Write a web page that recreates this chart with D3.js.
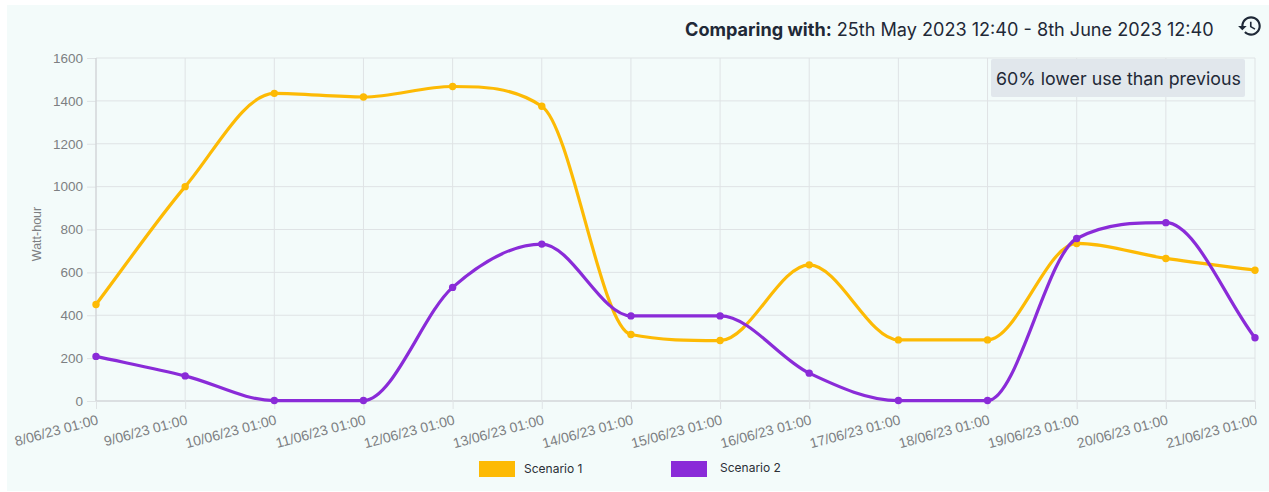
<!DOCTYPE html>
<html>
<head>
<meta charset="utf-8">
<script src="https://cdnjs.cloudflare.com/ajax/libs/d3/7.8.5/d3.min.js"></script>
<style>
  html, body { margin: 0; padding: 0; background: #fff; }
  svg { display: block; }
</style>
</head>
<body>
<svg id="chart" width="1269" height="492"></svg>
<script>
const categories = ["8/06/23 01:00","9/06/23 01:00","10/06/23 01:00","11/06/23 01:00","12/06/23 01:00","13/06/23 01:00","14/06/23 01:00","15/06/23 01:00","16/06/23 01:00","17/06/23 01:00","18/06/23 01:00","19/06/23 01:00","20/06/23 01:00","21/06/23 01:00"];
const scenario1 = [450,1000,1435,1418,1467,1375,310,282,635,285,285,735,665,610];
const scenario2 = [208,117,2,2,530,732,397,397,130,2,2,758,832,295];
const yTicks = [0,200,400,600,800,1000,1200,1400,1600];
const seriesNames = ["Scenario 1","Scenario 2"];
const seriesColors = ["#fdba04","#8a2bd8"];
const comparingLabel = "Comparing with:";
const comparingRange = "25th May 2023 12:40 - 8th June 2023 12:40";
const badgeText = "60% lower use than previous";
const yTitle = "Watt-hour";

const svg = d3.select("#chart");
const tickFont = "'Liberation Sans', Arial, sans-serif";
const uiFont = "Inter, 'Noto Sans', sans-serif";

// Fritsch-Carlson monotone cubic, written as a d3 curve factory
function curveFritschCarlson(context) {
  let pts;
  return {
    lineStart() { pts = []; },
    point(px, py) { pts.push([+px, +py]); },
    lineEnd() {
      const n = pts.length;
      const delta = d3.range(n - 1).map(i => (pts[i+1][1] - pts[i][1]) / (pts[i+1][0] - pts[i][0]));
      const m = pts.map((p, i) => {
        if (i === 0) return delta[0];
        if (i === n - 1) return delta[n - 2];
        return Math.sign(delta[i-1]) !== Math.sign(delta[i]) ? 0 : (delta[i-1] + delta[i]) / 2;
      });
      for (let i = 0; i < n - 1; i++) {
        if (Math.abs(delta[i]) < 1e-6) { m[i] = 0; m[i+1] = 0; continue; }
        const a = m[i] / delta[i], b = m[i+1] / delta[i], s = a * a + b * b;
        if (s <= 9) continue;
        const tau = 3 / Math.sqrt(s);
        m[i] = a * tau * delta[i];
        m[i+1] = b * tau * delta[i];
      }
      context.moveTo(pts[0][0], pts[0][1]);
      for (let i = 0; i < n - 1; i++) {
        const h = (pts[i+1][0] - pts[i][0]) / 3;
        context.bezierCurveTo(pts[i][0] + h, pts[i][1] + m[i] * h,
                              pts[i+1][0] - h, pts[i+1][1] - m[i+1] * h,
                              pts[i+1][0], pts[i+1][1]);
      }
    }
  };
}

// Panel background
svg.append("rect").attr("x",7).attr("y",5).attr("width",1262).attr("height",486).attr("fill","#f3fbfa");

const x = d3.scalePoint().domain(categories).range([96,1255]);
const y = d3.scaleLinear().domain([0,1600]).range([401,58]);
const grid = "#dfe3e5";

// Horizontal grid with tick stubs
const yAxis = svg.append("g").attr("transform","translate(96,0)")
  .call(d3.axisLeft(y).tickValues(yTicks).tickSize(9).tickPadding(4).tickFormat(d3.format("d")));
yAxis.select(".domain").remove();
yAxis.selectAll("line").attr("stroke",grid);
yAxis.selectAll("text").attr("fill","#7d7f82").attr("font-size",13.5).attr("font-family",tickFont);
svg.append("g").selectAll("line").data(yTicks).join("line")
  .attr("x1",96).attr("x2",1255).attr("y1",d=>y(d)).attr("y2",d=>y(d))
  .attr("stroke",d=>d===0?"#d3d6d9":grid).attr("stroke-width",d=>d===0?1.5:1);

// Vertical grid with rotated date labels
const xAxis = svg.append("g").attr("transform","translate(0,401)")
  .call(d3.axisBottom(x).tickSize(8).tickFormat(()=>""));
xAxis.select(".domain").remove();
xAxis.selectAll("line").attr("stroke",grid);
svg.append("g").selectAll("line").data(categories).join("line")
  .attr("x1",d=>x(d)).attr("x2",d=>x(d)).attr("y1",58).attr("y2",401)
  .attr("stroke",(d,i)=>i===0?"#d3d6d9":grid).attr("stroke-width",(d,i)=>i===0?1.5:1);
svg.append("g").selectAll("text").data(categories).join("text")
  .attr("transform",d=>`translate(${x(d)+3},${424}) rotate(-15)`)
  .attr("text-anchor","end")
  .attr("fill","#7d7f82").attr("font-size",14).attr("font-family",tickFont)
  .text(d=>d);

svg.append("text")
  .attr("transform","translate(41,234) rotate(-90)")
  .attr("text-anchor","middle")
  .attr("fill","#7d7f82").attr("font-size",12.5).attr("font-family",tickFont)
  .text(yTitle);

// Comparison badge sits over the grid lines
svg.append("rect").attr("x",991).attr("y",59).attr("width",254).attr("height",38).attr("rx",2).attr("fill","#e1e7ec");
svg.append("text").attr("x",996).attr("y",85)
  .attr("fill","#1f2937").attr("font-size",17.8).attr("font-family",uiFont).text(badgeText);

// Series
const line = d3.line().x((d,i)=>x(categories[i])).y(d=>y(d)).curve(curveFritschCarlson);
[scenario1,scenario2].forEach((vals,k)=>{
  const g = svg.append("g");
  g.append("path").attr("d",line(vals)).attr("fill","none")
    .attr("stroke",seriesColors[k]).attr("stroke-width",3.2).attr("stroke-linejoin","round");
  g.selectAll("circle").data(vals).join("circle")
    .attr("cx",(d,i)=>x(categories[i])).attr("cy",d=>y(d)).attr("r",3.7).attr("fill",seriesColors[k]);
});

// Legend
const legendX = [479,671], legendW = [36,36], textX = [524,720], textY = [473,472];
seriesNames.forEach((name,k)=>{
  svg.append("rect").attr("x",legendX[k]).attr("y",461).attr("width",legendW[k]).attr("height",16).attr("fill",seriesColors[k]);
  svg.append("text").attr("x",textX[k]).attr("y",textY[k]).attr("fill","#2b2f36")
    .attr("font-size",12).attr("font-family",uiFont).text(name);
});

// Header
const header = svg.append("text").attr("x",685).attr("y",36).attr("font-size",18.1).attr("font-family",uiFont).attr("fill","#1f2937");
header.append("tspan").attr("font-weight",700).text(comparingLabel);
header.append("tspan").attr("dx",5).text(comparingRange);

// History icon
svg.append("path")
  .attr("transform","translate(1237,13) scale(1.08)")
  .attr("fill","#1f2937")
  .attr("d","M13 3c-4.97 0-9 4.03-9 9H1l3.89 3.89.07.14L9 12H6c0-3.87 3.13-7 7-7s7 3.13 7 7-3.13 7-7 7c-1.93 0-3.68-.79-4.94-2.06l-1.42 1.42C8.27 19.99 10.51 21 13 21c4.97 0 9-4.03 9-9s-4.03-9-9-9zm-1 5v5l4.28 2.54.72-1.21-3.5-2.08V8H12z");
</script>
</body>
</html>
